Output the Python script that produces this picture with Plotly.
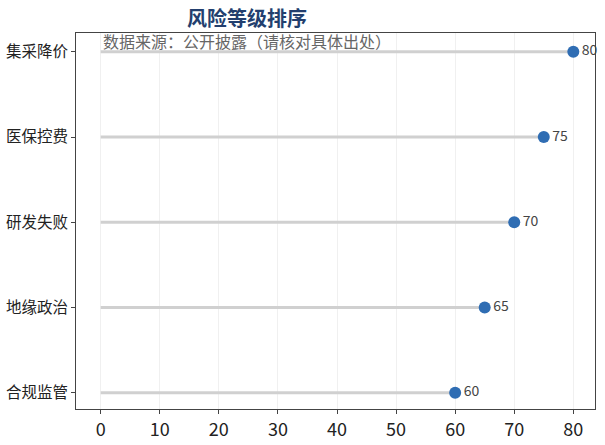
import plotly.graph_objects as go

categories = ["集采降价", "医保控费", "研发失败", "地缘政治", "合规监管"]
values = [80, 75, 70, 65, 60]
x_ticks = [0, 10, 20, 30, 40, 50, 60, 70, 80]

FONT = "Noto Sans CJK SC"

line_x, line_y = [], []
for c, v in zip(categories, values):
    line_x += [0, v, None]
    line_y += [c, c, None]

fig = go.Figure()
fig.add_trace(go.Scatter(
    x=line_x, y=line_y, mode="lines",
    line=dict(color="#d0d0d0", width=3),
    hoverinfo="skip", showlegend=False,
))
fig.add_trace(go.Scatter(
    x=values, y=categories, mode="markers+text",
    marker=dict(color="#2f6db3", size=12),
    text=[str(v) for v in values], textposition="middle right",
    textfont=dict(color="#444444", size=14, family=FONT),
    cliponaxis=False, showlegend=False,
))

fig.update_layout(
    width=605, height=445,
    margin=dict(l=76, r=10, t=33, b=36),
    paper_bgcolor="white", plot_bgcolor="white",
    font=dict(family=FONT, color="#222222"),
    title=dict(text="<b>风险等级排序</b>", x=187/605, xanchor="left",
               y=1 - 18.5/445, yanchor="middle",
               font=dict(size=20, color="#233f6e", family=FONT)),
    annotations=[dict(text="数据来源：公开披露（请核对具体出处）", x=0, xref="x",
                      xanchor="left", y=1 - 8/376, yref="paper", yanchor="middle",
                      showarrow=False, font=dict(size=16, color="#666666", family=FONT))],
)
fig.update_xaxes(
    range=[-4.18, 83.67], tickvals=x_ticks,
    showgrid=True, gridcolor="#f0f0f0", gridwidth=1, zeroline=False,
    showline=True, linecolor="#444444", linewidth=1, mirror=True,
    ticks="outside", ticklen=4, tickcolor="#444444",
    tickfont=dict(size=18, color="#222222"), automargin=False,
)
fig.update_yaxes(
    type="category", categoryorder="array", categoryarray=categories[::-1],
    range=[-0.19, 4.22],
    showgrid=False, zeroline=False,
    showline=True, linecolor="#444444", linewidth=1, mirror=True,
    ticks="outside", ticklen=4, tickcolor="#444444",
    tickfont=dict(size=15.5, color="#222222"), automargin=False,
)

fig.write_html("out.html", config={"displayModeBar": False},
               post_script="document.body.style.margin='0px';")
